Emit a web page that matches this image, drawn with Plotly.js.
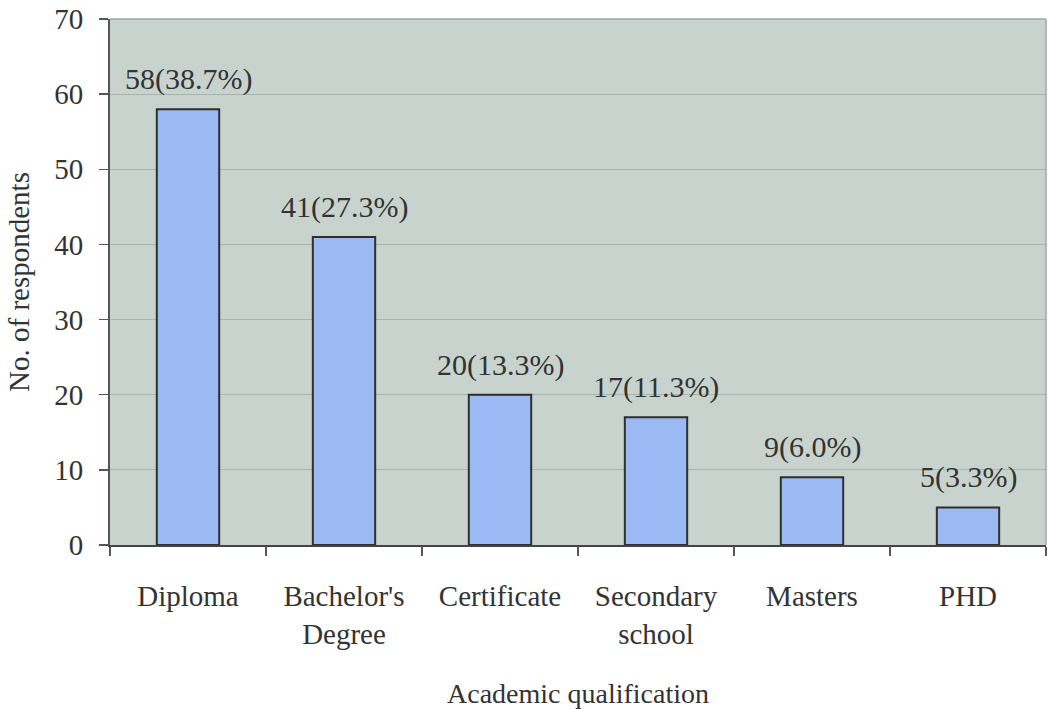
<!DOCTYPE html>
<html>
<head>
<meta charset="utf-8">
<script src="https://cdn.plot.ly/plotly-3.0.1.min.js"></script>
<style>
  html, body { margin: 0; padding: 0; background: #ffffff; }
  #chart { width: 1048px; height: 709px; }
</style>
</head>
<body>
<div id="chart"></div>
<script>
// Respondents by academic qualification
const categories = ["Diploma", "Bachelor's<br>Degree", "Certificate", "Secondary<br>school", "Masters", "PHD"];
const respondents = [58, 41, 20, 17, 9, 5];
const yTicks = [0, 10, 20, 30, 40, 50, 60, 70];

const total = respondents.reduce((a, b) => a + b, 0);
const labels = respondents.map(v => v + "(" + (v / total * 100).toFixed(1) + "%)");

const serif = "Liberation Serif, Times New Roman, serif";
const ink = "#333333";

const trace = {
  type: "bar",
  x: categories,
  y: respondents,
  marker: { color: "#9bbaf4", line: { color: "#2e2e2e", width: 2 } },
  hoverinfo: "skip"
};

// value labels placed above each bar
const annotations = categories.map((c, i) => ({
  x: c,
  y: respondents[i],
  xref: "x",
  yref: "y",
  text: labels[i],
  showarrow: false,
  yanchor: "bottom",
  yshift: 11,
  font: { family: serif, size: 30, color: ink }
}));

const layout = {
  width: 1048,
  height: 709,
  margin: { l: 110, r: 2, t: 19, b: 164 },
  paper_bgcolor: "#ffffff",
  plot_bgcolor: "#c9d3ce",
  bargap: 0.6,
  showlegend: false,
  font: { family: serif, size: 29, color: ink },
  xaxis: {
    type: "category",
    tickson: "boundaries",
    ticks: "outside",
    ticklen: 9,
    tickwidth: 1.5,
    tickcolor: "#555555",
    showline: true,
    linecolor: "#444444",
    linewidth: 2,
    mirror: false,
    showgrid: false,
    tickfont: { family: serif, size: 29, color: ink },
    ticklabelstandoff: 24,
    title: { text: "Academic qualification", font: { family: serif, size: 28, color: ink }, standoff: 37 }
  },
  yaxis: {
    range: [0, 70],
    tickvals: yTicks,
    ticks: "outside",
    ticklen: 9,
    tickwidth: 1.5,
    tickcolor: "#555555",
    showline: true,
    linecolor: "#555555",
    linewidth: 2,
    showgrid: true,
    gridcolor: "#a9b3af",
    gridwidth: 1,
    zeroline: false,
    tickfont: { family: serif, size: 29, color: ink },
    ticklabelstandoff: 10,
    title: { text: "No. of respondents", font: { family: serif, size: 29, color: ink }, standoff: 16 }
  },
  shapes: [
    { type: "line", xref: "paper", yref: "paper", x0: 0, x1: 1, y0: 1, y1: 1, line: { color: "#9aa8a6", width: 1.5 } },
    { type: "line", xref: "paper", yref: "paper", x0: 1, x1: 1, y0: 0, y1: 1, line: { color: "#9aa8a6", width: 1.5 } }
  ],
  annotations: annotations
};

Plotly.newPlot("chart", [trace], layout, { displayModeBar: false, staticPlot: true });
</script>
</body>
</html>
